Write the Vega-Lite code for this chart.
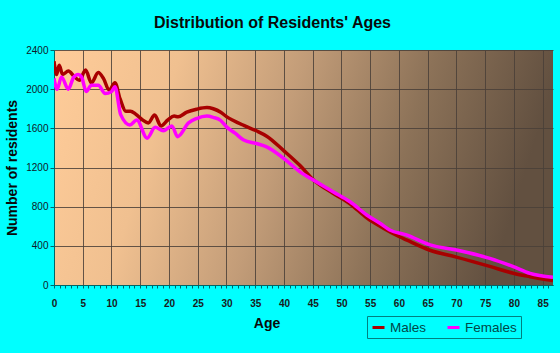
{
  "$schema": "https://vega.github.io/schema/vega-lite/v6.json",
  "autosize": {"type": "none"},
  "width": 499,
  "height": 235,
  "padding": {"left": 54, "top": 50, "right": 7, "bottom": 68},
  "background": "#00FFFF",
  "config": {
    "view": {
      "stroke": null,
      "fill": {"gradient": "linear", "x1": 0, "y1": 0, "x2": 1, "y2": 0.15,
        "stops": [
          {"offset": 0, "color": "#FFCC99"},
          {"offset": 0.25, "color": "#F0C090"},
          {"offset": 0.5, "color": "#C29C78"},
          {"offset": 0.75, "color": "#8C7258"},
          {"offset": 1, "color": "#625040"}
        ]}
    },
    "font": "Liberation Sans"
  },
  "title": {
    "text": "Distribution of Residents' Ages",
    "font": "Liberation Sans",
    "fontSize": 16,
    "fontWeight": "bold",
    "color": "#0a0a0a",
    "anchor": "middle",
    "frame": "group",
    "dx": -31,
    "offset": 14
  },
  "data": {
    "values": [
      {"age": 0, "count": 2285, "sex": "Males"},
      {"age": 0.45, "count": 2150, "sex": "Males"},
      {"age": 0.9, "count": 2245, "sex": "Males"},
      {"age": 1.5, "count": 2150, "sex": "Males"},
      {"age": 2.5, "count": 2185, "sex": "Males"},
      {"age": 3.5, "count": 2130, "sex": "Males"},
      {"age": 4.4, "count": 2090, "sex": "Males"},
      {"age": 5.5, "count": 2195, "sex": "Males"},
      {"age": 6.5, "count": 2065, "sex": "Males"},
      {"age": 7.7, "count": 2170, "sex": "Males"},
      {"age": 8.6, "count": 2110, "sex": "Males"},
      {"age": 9.6, "count": 1990, "sex": "Males"},
      {"age": 10.6, "count": 2065, "sex": "Males"},
      {"age": 11.5, "count": 1900, "sex": "Males"},
      {"age": 12.5, "count": 1775, "sex": "Males"},
      {"age": 13.3, "count": 1775, "sex": "Males"},
      {"age": 14.2, "count": 1745, "sex": "Males"},
      {"age": 15.3, "count": 1690, "sex": "Males"},
      {"age": 16.4, "count": 1655, "sex": "Males"},
      {"age": 17.5, "count": 1735, "sex": "Males"},
      {"age": 18.6, "count": 1625, "sex": "Males"},
      {"age": 19.8, "count": 1685, "sex": "Males"},
      {"age": 20.9, "count": 1725, "sex": "Males"},
      {"age": 21.6, "count": 1718, "sex": "Males"},
      {"age": 23.1, "count": 1765, "sex": "Males"},
      {"age": 24.8, "count": 1795, "sex": "Males"},
      {"age": 26.6, "count": 1812, "sex": "Males"},
      {"age": 27.7, "count": 1800, "sex": "Males"},
      {"age": 29, "count": 1765, "sex": "Males"},
      {"age": 30, "count": 1720, "sex": "Males"},
      {"age": 31.2, "count": 1680, "sex": "Males"},
      {"age": 33, "count": 1630, "sex": "Males"},
      {"age": 35.2, "count": 1575, "sex": "Males"},
      {"age": 37, "count": 1520, "sex": "Males"},
      {"age": 40, "count": 1370, "sex": "Males"},
      {"age": 42.8, "count": 1220, "sex": "Males"},
      {"age": 45.1, "count": 1075, "sex": "Males"},
      {"age": 48.6, "count": 935, "sex": "Males"},
      {"age": 51.5, "count": 830, "sex": "Males"},
      {"age": 54.4, "count": 685, "sex": "Males"},
      {"age": 57.3, "count": 580, "sex": "Males"},
      {"age": 60, "count": 495, "sex": "Males"},
      {"age": 61.3, "count": 460, "sex": "Males"},
      {"age": 65.4, "count": 355, "sex": "Males"},
      {"age": 70, "count": 285, "sex": "Males"},
      {"age": 75.8, "count": 190, "sex": "Males"},
      {"age": 79.9, "count": 120, "sex": "Males"},
      {"age": 82.8, "count": 85, "sex": "Males"},
      {"age": 86.8, "count": 45, "sex": "Males"},
      {"age": 0, "count": 2110, "sex": "Females"},
      {"age": 0.55, "count": 2000, "sex": "Females"},
      {"age": 1.3, "count": 2125, "sex": "Females"},
      {"age": 2.5, "count": 2000, "sex": "Females"},
      {"age": 3.4, "count": 2120, "sex": "Females"},
      {"age": 4.2, "count": 2150, "sex": "Females"},
      {"age": 4.8, "count": 2125, "sex": "Females"},
      {"age": 5.6, "count": 1975, "sex": "Females"},
      {"age": 6.5, "count": 2040, "sex": "Females"},
      {"age": 7.7, "count": 2040, "sex": "Females"},
      {"age": 8.9, "count": 1955, "sex": "Females"},
      {"age": 10.0, "count": 1975, "sex": "Females"},
      {"age": 10.6, "count": 2025, "sex": "Females"},
      {"age": 11.6, "count": 1740, "sex": "Females"},
      {"age": 13.2, "count": 1635, "sex": "Females"},
      {"age": 14.4, "count": 1685, "sex": "Females"},
      {"age": 16.2, "count": 1500, "sex": "Females"},
      {"age": 17.6, "count": 1610, "sex": "Females"},
      {"age": 19.0, "count": 1575, "sex": "Females"},
      {"age": 20.5, "count": 1625, "sex": "Females"},
      {"age": 21.5, "count": 1515, "sex": "Females"},
      {"age": 23.4, "count": 1655, "sex": "Females"},
      {"age": 24.8, "count": 1700, "sex": "Females"},
      {"age": 26.6, "count": 1725, "sex": "Females"},
      {"age": 27.7, "count": 1712, "sex": "Females"},
      {"age": 29, "count": 1680, "sex": "Females"},
      {"age": 30, "count": 1615, "sex": "Females"},
      {"age": 31.5, "count": 1550, "sex": "Females"},
      {"age": 33, "count": 1480, "sex": "Females"},
      {"age": 35.2, "count": 1445, "sex": "Females"},
      {"age": 37, "count": 1410, "sex": "Females"},
      {"age": 40, "count": 1290, "sex": "Females"},
      {"age": 42.8, "count": 1155, "sex": "Females"},
      {"age": 45.1, "count": 1072, "sex": "Females"},
      {"age": 48.6, "count": 950, "sex": "Females"},
      {"age": 51.5, "count": 850, "sex": "Females"},
      {"age": 54.4, "count": 715, "sex": "Females"},
      {"age": 56.7, "count": 630, "sex": "Females"},
      {"age": 58.4, "count": 562, "sex": "Females"},
      {"age": 61.3, "count": 511, "sex": "Females"},
      {"age": 65.4, "count": 409, "sex": "Females"},
      {"age": 70, "count": 357, "sex": "Females"},
      {"age": 75.8, "count": 272, "sex": "Females"},
      {"age": 79.9, "count": 187, "sex": "Females"},
      {"age": 82.8, "count": 119, "sex": "Females"},
      {"age": 86.8, "count": 78, "sex": "Females"}
    ]
  },
  "mark": {"type": "line", "interpolate": "monotone", "strokeWidth": 3.5, "clip": true},
  "encoding": {
    "x": {
      "field": "age",
      "type": "quantitative",
      "scale": {"domain": [0, 86.8], "nice": false, "zero": false},
      "axis": {
        "title": "Age",
        "titleFont": "Liberation Sans",
        "titleFontSize": 14,
        "titleFontWeight": "bold",
        "titleColor": "#0a0a0a",
        "titleX": 212.5,
        "titleY": 38.5,
        "titleAlign": "center",
        "titleBaseline": "middle",
        "values": [0,1,2,3,4,5,6,7,8,9,10,11,12,13,14,15,16,17,18,19,20,21,22,23,24,25,26,27,28,29,30,31,32,33,34,35,36,37,38,39,40,41,42,43,44,45,46,47,48,49,50,51,52,53,54,55,56,57,58,59,60,61,62,63,64,65,66,67,68,69,70,71,72,73,74,75,76,77,78,79,80,81,82,83,84,85,86],
        "labelExpr": "datum.value % 5 === 0 ? datum.label : ''",
        "labelFont": "Liberation Sans",
        "labelFontSize": 10,
        "labelFontWeight": "bold",
        "labelColor": "#1a1a1a",
        "labelPadding": 10,
        "labelOverlap": false,
        "labelFlush": false,
        "tickSize": 3,
        "tickColor": "#006666",
        "domainColor": "#006666",
        "grid": true,
        "gridColor": "#4a4038",
        "gridOpacity": {"condition": {"test": "datum.value % 5 === 0", "value": 0.85}, "value": 0}
      }
    },
    "y": {
      "field": "count",
      "type": "quantitative",
      "scale": {"domain": [0, 2400], "nice": false},
      "axis": {
        "title": "Number of residents",
        "titleFont": "Liberation Sans",
        "titleFontSize": 14,
        "titleFontWeight": "bold",
        "titleColor": "#0a0a0a",
        "titleAngle": -90,
        "titleX": -42,
        "titleY": 117.5,
        "titleAlign": "center",
        "titleBaseline": "middle",
        "values": [0, 400, 800, 1200, 1600, 2000, 2400],
        "format": "d",
        "labelFont": "Liberation Sans",
        "labelFontSize": 10,
        "labelColor": "#101828",
        "labelPadding": 2,
        "tickSize": 4,
        "tickColor": "#006666",
        "domainColor": "#006666",
        "grid": true,
        "gridColor": "#4a4038",
        "gridOpacity": 0.85
      }
    },
    "color": {
      "field": "sex",
      "type": "nominal",
      "scale": {"domain": ["Males", "Females"], "range": ["#A80000", "#FF00FF"]},
      "legend": {
        "title": null,
        "orient": "none",
        "legendX": 313,
        "legendY": 266,
        "direction": "horizontal",
        "symbolType": "stroke",
        "symbolSize": 144,
        "symbolStrokeWidth": 3,
        "labelFont": "Liberation Sans",
        "labelFontSize": 13.5,
        "labelColor": "#004848",
        "labelOffset": 4,
        "columnPadding": 14,
        "padding": 4,
        "strokeColor": "#008080",
        "fillColor": null
      }
    }
  }
}
